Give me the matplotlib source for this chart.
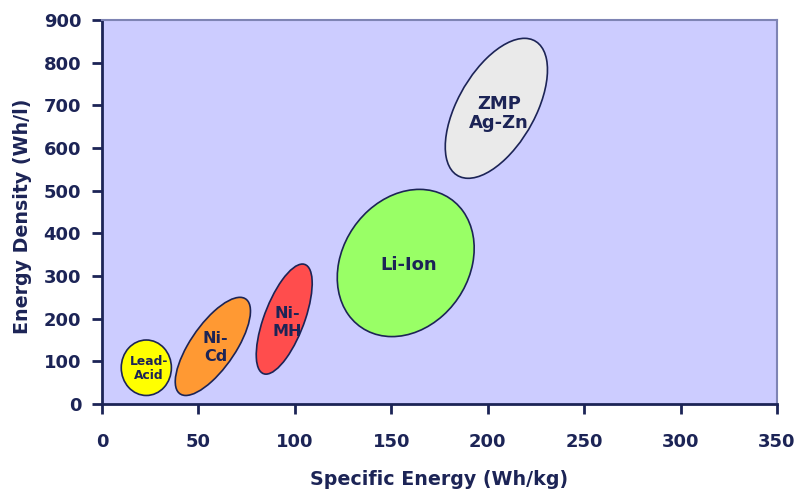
import matplotlib
matplotlib.use("Agg")
import matplotlib.pyplot as plt
from matplotlib.patches import Ellipse
import numpy as np

plt.rcParams['font.family'] = ['DejaVu Sans']

# battery chemistries: ranges of specific energy (Wh/kg) and energy density (Wh/l)
names = ['Lead-\nAcid', 'Ni-\nCd', 'Ni-\nMH', 'Li-Ion', 'ZMP\nAg-Zn']
spec_lo = [10, 38, 80, 122, 178]
spec_hi = [36, 77, 109, 193, 231]
dens_lo = [20, 20, 70, 158, 529]
dens_hi = [150, 250, 328, 503, 857]
corr = [0.0, 0.72, 0.65, 0.2, 0.55]   # tilt of each region
colors = ['#FFFF00', '#FF9933', '#FF4D4D', '#99FF66', '#EAEAEA']
label_size = [8.8, 11.5, 11.5, 13, 13]
label_spacing = [1.1, 1.25, 1.25, 1.1, 1.1]
label_dy = [-2, -2, -8, -4, -12]

navy = '#1C2456'

fig = plt.figure(figsize=(7.96, 4.90), dpi=100)
ax = fig.add_axes([0.1281, 0.1755, 0.848, 0.7837])
ax.set_facecolor('#CCCCFF')
ax.set_xlim(0, 350)
ax.set_ylim(0, 900)

for i in range(len(names)):
    cx = (spec_lo[i] + spec_hi[i]) / 2
    cy = (dens_lo[i] + dens_hi[i]) / 2
    sx = (spec_hi[i] - spec_lo[i]) / 2
    sy = (dens_hi[i] - dens_lo[i]) / 2
    # ellipse inscribed in the range box, shaped by the correlation
    M = np.array([[sx * sx, corr[i] * sx * sy], [corr[i] * sx * sy, sy * sy]])
    vals, vecs = np.linalg.eigh(M)
    ang = np.degrees(np.arctan2(vecs[1, 1], vecs[0, 1]))
    e = Ellipse((cx, cy), 2 * np.sqrt(vals[1]), 2 * np.sqrt(vals[0]), angle=ang,
                facecolor=colors[i], edgecolor=navy, linewidth=1.2, zorder=3)
    ax.add_patch(e)
    ax.text(cx + 1.5, cy + label_dy[i], names[i], ha='center', va='center',
            fontsize=label_size[i], fontweight='bold', color=navy,
            linespacing=label_spacing[i], zorder=4)

ax.set_xticks(np.arange(0, 351, 50))
ax.set_yticks(np.arange(0, 901, 100))
ax.tick_params(direction='out', length=7, width=2, color=navy, labelcolor=navy,
               labelsize=13)
ax.tick_params(axis='x', pad=14)
ax.tick_params(axis='y', pad=8)
for lab in ax.get_xticklabels() + ax.get_yticklabels():
    lab.set_fontweight('bold')

for s in ['left', 'bottom']:
    ax.spines[s].set_color(navy)
    ax.spines[s].set_linewidth(2)
for s in ['top', 'right']:
    ax.spines[s].set_color('#7E84B4')
    ax.spines[s].set_linewidth(1.5)

ax.set_xlabel('Specific Energy (Wh/kg)', fontsize=13.7, fontweight='bold', color=navy)
ax.set_ylabel('Energy Density (Wh/l)', fontsize=13.7, fontweight='bold', color=navy)
ax.xaxis.label.set_va('baseline')
ax.yaxis.label.set_va('center')
ax.xaxis.set_label_coords(0.5, -0.211)
ax.yaxis.set_label_coords(-0.118, 0.49)

fig.savefig('out.png', dpi=100)
